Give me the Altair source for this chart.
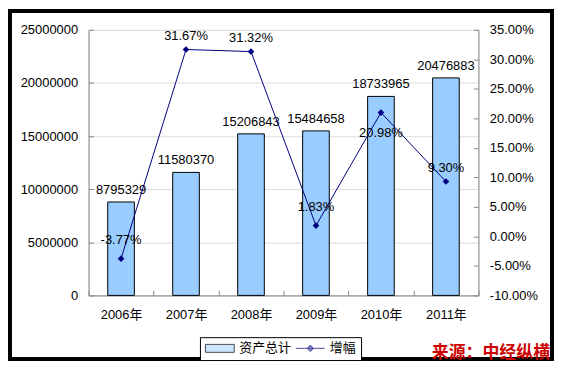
import altair as alt
import pandas as pd

# ---- data ----
years = ["2006年", "2007年", "2008年", "2009年", "2010年", "2011年"]
assets = [8795329, 11580370, 15206843, 15484658, 18733965, 20476883]
growth_pct = [-3.77, 31.67, 31.32, 1.83, 20.98, 9.30]
series_names = ["资产总计", "增幅"]
left_ticks = [0, 5000000, 10000000, 15000000, 20000000, 25000000]
right_ticks_pct = [-10, -5, 0, 5, 10, 15, 20, 25, 30, 35]
source_text = "来源：中经纵横"

# label groups (placement only)
labels_far_above = ["2006年", "2009年"]
labels_below = ["2010年"]

df = pd.DataFrame({
    "year": years,
    "assets": assets,
    "growth": [g / 100 for g in growth_pct],
    "series": [series_names[0]] * len(years),
})

NUM_FONT = "Liberation Sans, Arial, Noto Sans CJK SC"
CJK_FONT = "Noto Sans CJK SC"
BAR_FILL = "#99CCFF"
LINE_COL = "#000080"

W, H = 392, 267
PAD = {"left": 81, "top": 21, "right": 76, "bottom": 66}

x_scale = alt.Scale(domain=years, paddingInner=0, paddingOuter=0)
left_scale = alt.Scale(domain=[0, 25000000], nice=False, zero=True)
right_scale = alt.Scale(domain=[-0.10, 0.35], nice=False, zero=False)

x_main = alt.X("year:N", sort=years, scale=x_scale,
               axis=alt.Axis(title=None, labelAngle=0, tickBand="extent", tickSize=5,
                             tickOpacity=0, labelPadding=8, labelFont=NUM_FONT,
                             labelFontSize=13))
x_none = alt.X("year:N", sort=years, scale=x_scale, axis=None)
x_ticks = alt.X("year:N", sort=years, scale=x_scale,
                axis=alt.Axis(title=None, labels=False, domain=False, tickBand="extent",
                              tickSize=5, offset=-5, orient="bottom"))

y_left = alt.Y("assets:Q", scale=left_scale,
               axis=alt.Axis(title=None, orient="left", values=left_ticks, format="d",
                             tickSize=5, tickOpacity=0, labelPadding=6,
                             labelFont=NUM_FONT, labelFontSize=13))
y_left_ticks = alt.Y("assets:Q", scale=left_scale,
                     axis=alt.Axis(title=None, orient="left", values=left_ticks,
                                   labels=False, domain=False, tickSize=5, offset=-5))

right_vals = [v / 100 for v in right_ticks_pct]
y_right = alt.Y("growth:Q", scale=right_scale,
                axis=alt.Axis(title=None, orient="right", values=right_vals,
                              format=".2%", tickSize=5, tickOpacity=0, labelPadding=6,
                              labelFont=NUM_FONT, labelFontSize=13))
y_right_ticks = alt.Y("growth:Q", scale=right_scale,
                      axis=alt.Axis(title=None, orient="right", values=right_vals,
                                    labels=False, domain=False, tickSize=5, offset=-5))

RECT_PATH = "M-2.9,-0.8H2.9V0.8H-2.9Z"
LINE_PATH = "M-2.9,0H2.9M0,-0.65L0.65,0L0,0.65L-0.65,0Z"

legend = alt.Legend(
    title=None, orient="none", legendX=112, legendY=309, direction="horizontal",
    strokeColor="black", fillColor="white", padding=4.5, symbolSize=100,
    symbolOffset=9, labelOffset=13, columnPadding=2, symbolStrokeWidth=1,
    labelFont=CJK_FONT, labelFontSize=13, labelColor="black",
)

bars = alt.Chart(df).mark_bar(
    width=alt.RelativeBandSize(0.41), fill=BAR_FILL, stroke="black", strokeWidth=1
).encode(x=x_main, y=y_left)

bar_labels = alt.Chart(df).mark_text(
    font=NUM_FONT, fontSize=13, color="black", baseline="middle", dy=-12
).encode(x=x_main, y=y_left, text=alt.Text("assets:Q", format="d"))

# legend carrier: no visible marks, its scales list both series
legend_layer = alt.Chart(df).mark_point(filled=True, strokeWidth=1).encode(
    x=x_main, y=y_left,
    fill=alt.Fill("series:N", scale=alt.Scale(domain=series_names, range=[BAR_FILL, LINE_COL]),
                  legend=legend),
    stroke=alt.Stroke("series:N", scale=alt.Scale(domain=series_names, range=["black", LINE_COL]),
                      legend=legend),
    shape=alt.Shape("series:N", scale=alt.Scale(domain=series_names, range=[RECT_PATH, LINE_PATH]),
                    legend=legend),
).transform_filter("false")

left = alt.layer(bars, bar_labels, legend_layer)

line = alt.Chart(df).mark_line(color=LINE_COL, strokeWidth=1).encode(x=x_none, y=y_right)
points = alt.Chart(df).mark_point(
    shape="diamond", filled=True, size=45, color=LINE_COL, opacity=1
).encode(x=x_none, y=y_right)


def growth_text(dy):
    return alt.Chart(df).mark_text(
        font=NUM_FONT, fontSize=13, color="black", baseline="middle", dy=dy
    ).encode(x=x_none, y=y_right, text=alt.Text("growth:Q", format=".2%"))


lab_far = growth_text(-19).transform_filter(
    alt.FieldOneOfPredicate(field="year", oneOf=labels_far_above))
lab_below = growth_text(21).transform_filter(
    alt.FieldOneOfPredicate(field="year", oneOf=labels_below))
lab_near = growth_text(-13.5).transform_filter(
    {"not": alt.FieldOneOfPredicate(field="year", oneOf=labels_far_above + labels_below)})

right = alt.layer(line, points, lab_far, lab_near, lab_below)

# invisible layers that only carry the inward-pointing tick marks
ticks_a = alt.Chart(df).mark_point(opacity=0).encode(x=x_ticks, y=y_left_ticks)
ticks_b = alt.Chart(df).mark_point(opacity=0).encode(x=x_none, y=y_right_ticks)

# decorative black frame around the whole chart
frame = alt.Chart(pd.DataFrame({"k": [0]})).mark_rect(
    fillOpacity=0, stroke="black", strokeWidth=4
).encode(
    x=alt.value(-PAD["left"] + 2), x2=alt.value(W + PAD["right"] - 2),
    y=alt.value(-PAD["top"] + 2), y2=alt.value(H + PAD["bottom"] - 2),
)

chart = alt.layer(frame, left, right, ticks_a, ticks_b).resolve_scale(
    x="independent", y="independent"
).properties(
    width=W, height=H, padding=PAD,
    autosize=alt.AutoSizeParams(type="none"),
    background="white",
    title=alt.TitleParams(
        text=source_text, orient="bottom", anchor="end", frame="group",
        color="#CC0000", font=CJK_FONT, fontSize=17, fontWeight="bold",
        offset=0, dx=72, dy=-16,
    ),
).configure_view(
    stroke="#808080", strokeWidth=1
).configure_axis(
    grid=False, domainColor="black", tickColor="black", labelColor="black",
    domainWidth=1, tickWidth=1,
).configure(
    locale={"number": {"decimal": ".", "thousands": ",", "grouping": [3],
                       "currency": ["$", ""], "minus": "-"}}
)

chart.save("out.html", embed_options={"renderer": "svg", "actions": False})
